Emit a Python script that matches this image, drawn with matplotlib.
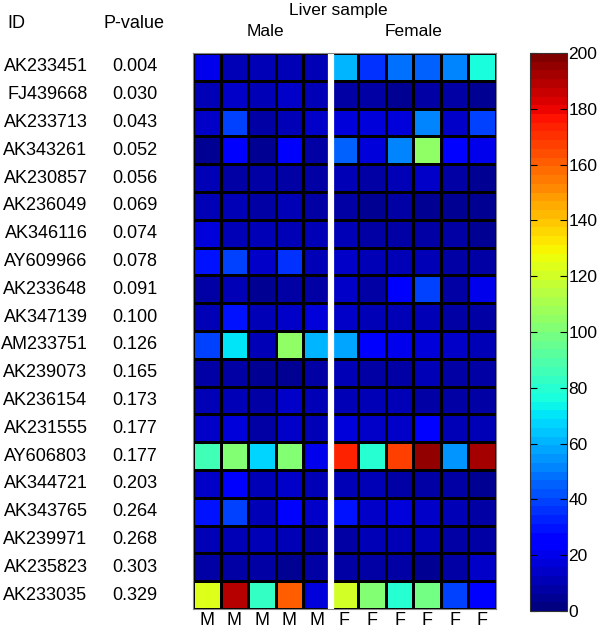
import matplotlib
matplotlib.use('Agg')
import matplotlib.pyplot as plt
import numpy as np
from matplotlib.colors import ListedColormap

plt.rcParams['font.family'] = ['Liberation Sans', 'DejaVu Sans']

ids = ['AK233451', 'FJ439668', 'AK233713', 'AK343261', 'AK230857', 'AK236049',
       'AK346116', 'AY609966', 'AK233648', 'AK347139', 'AM233751', 'AK239073',
       'AK236154', 'AK231555', 'AY606803', 'AK344721', 'AK343765', 'AK239971',
       'AK235823', 'AK233035']
pvals = ['0.004', '0.030', '0.043', '0.052', '0.056', '0.069', '0.074', '0.078',
         '0.091', '0.100', '0.126', '0.165', '0.173', '0.177', '0.177', '0.203',
         '0.264', '0.268', '0.303', '0.329']
samples = ['M', 'M', 'M', 'M', 'M', 'F', 'F', 'F', 'F', 'F', 'F']

# expression per gene, male samples (5) then female samples (6)
male = [
    [20, 12, 10, 12, 10],
    [10, 15, 10, 13, 10],
    [14, 38, 9, 12, 15],
    [5, 22, 6, 22, 8],
    [10, 9, 8, 7, 7],
    [10, 11, 8, 11, 8],
    [18, 12, 10, 12, 10],
    [30, 38, 15, 36, 10],
    [8, 10, 6, 7, 7],
    [12, 30, 10, 14, 18],
    [38, 70, 12, 105, 62],
    [8, 7, 6, 5, 8],
    [10, 12, 8, 14, 10],
    [14, 18, 8, 13, 11],
    [85, 100, 68, 102, 20],
    [15, 22, 12, 14, 10],
    [30, 40, 12, 28, 14],
    [10, 10, 12, 12, 9],
    [8, 7, 8, 6, 7],
    [122, 188, 82, 162, 18],
]
female = [
    [62, 37, 48, 45, 50, 78],
    [8, 7, 5, 9, 7, 6],
    [17, 18, 16, 52, 15, 38],
    [46, 18, 52, 105, 28, 20],
    [10, 8, 12, 14, 7, 6],
    [8, 6, 8, 6, 6, 5],
    [12, 8, 7, 9, 7, 6],
    [14, 11, 10, 10, 8, 8],
    [15, 7, 22, 38, 8, 20],
    [13, 11, 10, 12, 8, 9],
    [58, 22, 20, 17, 14, 12],
    [10, 9, 8, 10, 7, 7],
    [10, 10, 10, 7, 9, 7],
    [17, 14, 13, 25, 12, 10],
    [174, 80, 166, 196, 55, 192],
    [10, 10, 9, 9, 7, 6],
    [30, 14, 16, 14, 10, 8],
    [9, 10, 11, 10, 8, 8],
    [8, 7, 8, 6, 8, 13],
    [120, 102, 80, 98, 38, 22],
]

data = np.hstack([np.array(male), np.array(female)])
cmap = ListedColormap(plt.get_cmap('jet')(np.linspace(0, 1, 64)))

fig = plt.figure(figsize=(6, 6.33), dpi=100)
ax = fig.add_axes([193/600, 1 - 609/633, 303/600, 556/633])
mesh = ax.pcolormesh(data, cmap=cmap, vmin=0, vmax=200,
                     edgecolors='black', linewidth=0.8)
ax.set_xlim(0, data.shape[1])
ax.set_ylim(data.shape[0], 0)
ax.axvline(5, color='white', linewidth=4.5)
for s in ax.spines.values():
    s.set_color('#888888')
ax.set_yticks([])
ax.set_xticks(np.arange(len(samples)) + 0.5)
ax.set_xticklabels(samples, fontsize=13)
ax.tick_params(axis='x', length=0, pad=2)

tr = ax.get_yaxis_transform()
for i, (g, p) in enumerate(zip(ids, pvals)):
    ax.text(-0.348, i + 0.5, g, transform=tr, ha='right', va='center', fontsize=13)
    ax.text(-0.118, i + 0.5, p, transform=tr, ha='right', va='center', fontsize=13)

fig.text(7/600, 1 - 24/633, 'ID', ha='left', va='center', fontsize=13)
fig.text(134/600, 1 - 24/633, 'P-value', ha='center', va='center', fontsize=13)
fig.text(338/600, 1 - 10/633, 'Liver sample', ha='center', va='center', fontsize=12.5)
fig.text(265/600, 1 - 32/633, 'Male', ha='center', va='center', fontsize=12.5)
fig.text(414/600, 1 - 32/633, 'Female', ha='center', va='center', fontsize=12.5)

cax = fig.add_axes([530/600, 1 - 611/633, 37/600, 558/633])
cb = fig.colorbar(mesh, cax=cax, ticks=np.arange(0, 201, 20))
cb.outline.set_edgecolor('#333333')
cax.tick_params(labelsize=12.5, direction='in', left=True, right=True, length=5, pad=1)

fig.savefig('out.png', dpi=100)
